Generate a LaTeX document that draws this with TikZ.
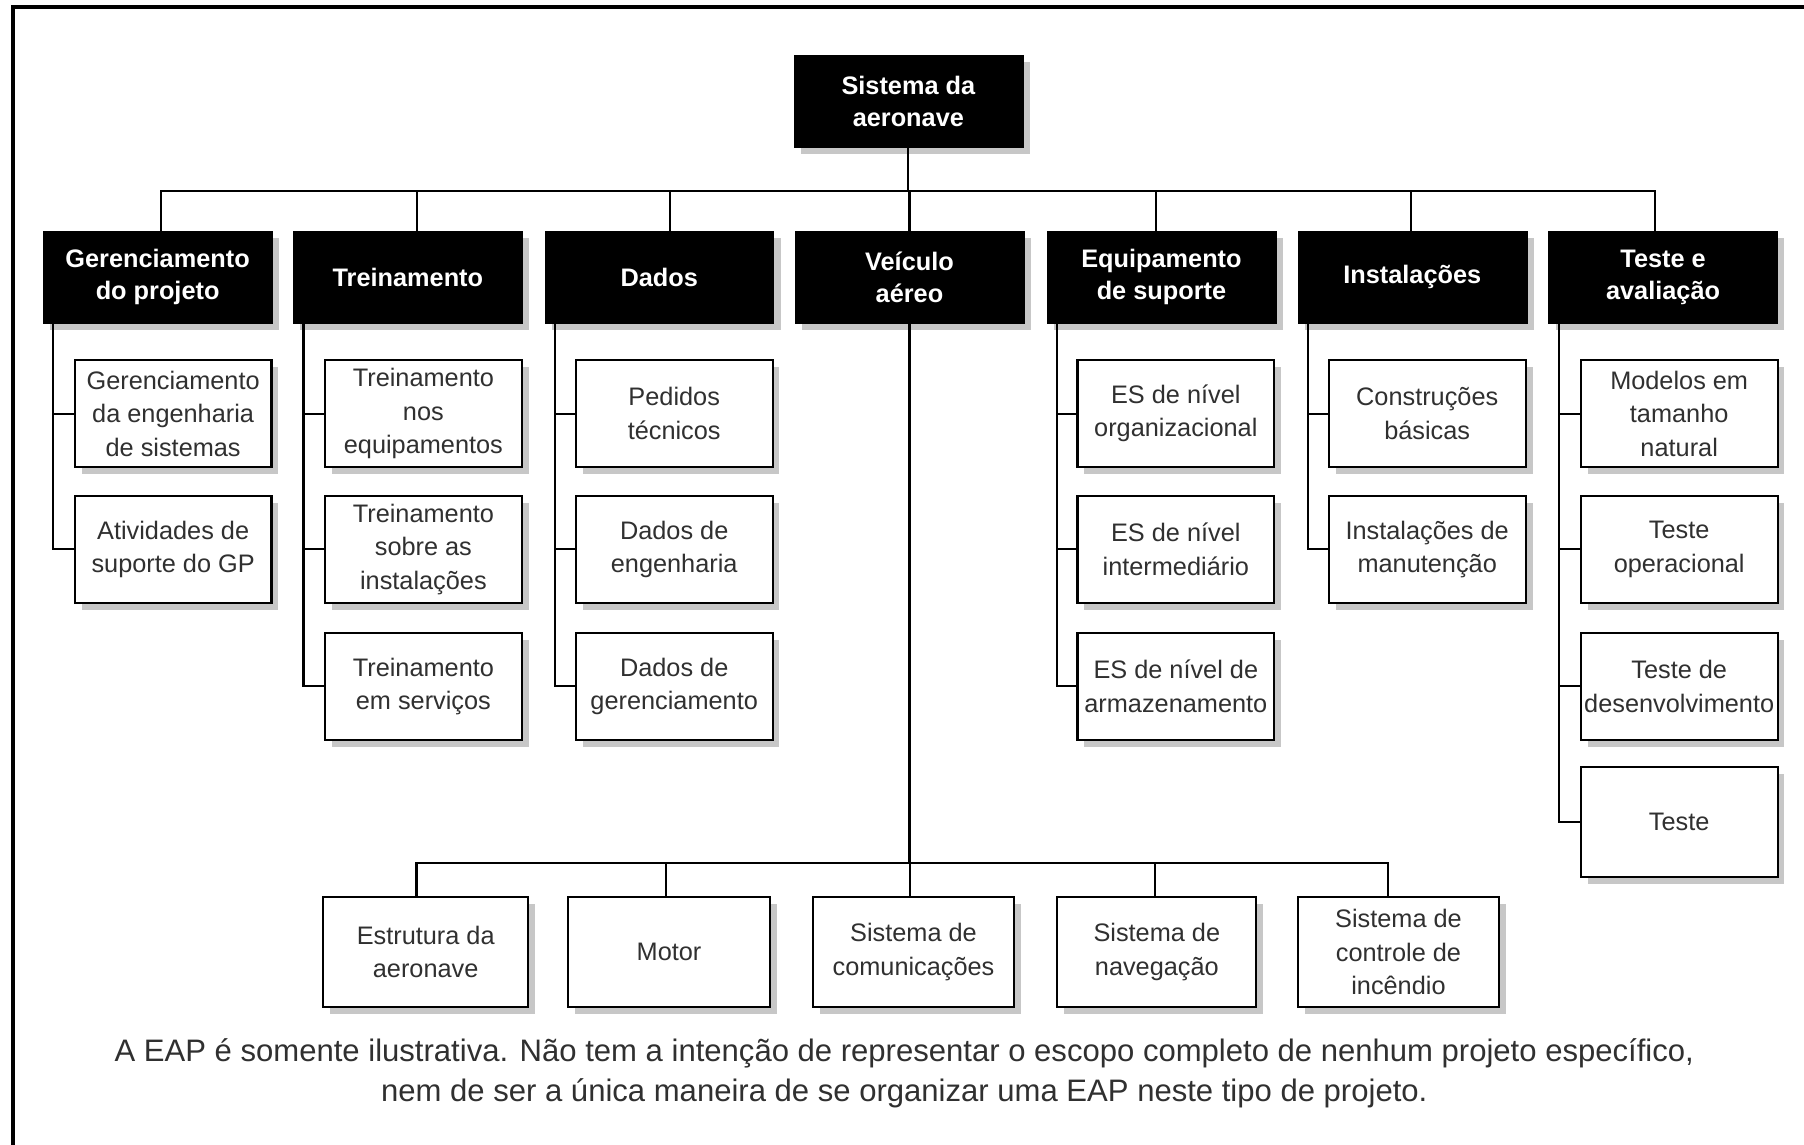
\documentclass[tikz,border=0pt]{standalone}
\usepackage{fontspec}
\setmainfont{Liberation Sans}
\usetikzlibrary{shadows,calc}
\definecolor{txt}{HTML}{303030}
\tikzset{
  conn/.style={line width=1.8pt, black},
  shad/.style={drop shadow={shadow xshift=6pt,shadow yshift=-6pt,fill=black!22,opacity=1}},
  topbox/.style={shad, fill=black, draw=black, text=white, align=center,
     font=\fontsize{22}{28}\selectfont\bfseries, minimum width=199pt, minimum height=80pt, inner sep=0pt},
  subbox/.style={shad, fill=white, draw=black, line width=1.8pt, text=txt, align=center,
     font=\fontsize{22}{29}\selectfont, minimum width=171pt, minimum height=93pt, inner sep=0pt},
  botbox/.style={subbox, minimum height=95pt},
}
\begin{document}
\begin{tikzpicture}[x=1pt,y=-1pt]
\useasboundingbox (0,0) rectangle (1568,995);
\fill[white] (0,0) rectangle (1568,995);
% frame
\draw[line width=3.5pt] (11,995) -- (11,6) -- (1568,6);

% root and level 1
\node[topbox] (root) at (789.5,88) {Sistema da\\aeronave};
\node[topbox] (p1) at (137,241) {Gerenciamento\\do projeto};
\node[topbox] (p2) at (354.5,241) {Treinamento};
\node[topbox] (p3) at (573,241) {Dados};
\node[topbox] (p4) at (790.5,241) {Veículo\\aéreo};
\node[topbox] (p5) at (1009.5,241) {Equipamento\\de suporte};
\node[topbox] (p6) at (1227.5,241) {Instalações\vphantom{T}};
\node[topbox] (p7) at (1445.5,241) {Teste e\\avaliação};

\coordinate (bus) at (790,166);
\draw[conn] (root.south) -- (root.south |- bus);
\foreach \n/\dx in {p1/3,p2/8,p3/9,p4/0,p5/-5,p6/-1,p7/-7}{
  \draw[conn] ([xshift=\dx pt]\n.north) |- (bus);
}

% column 1
\node[subbox] (a1) at (150.5,359.5) {Gerenciamento\\da engenharia\\de sistemas};
\node[subbox] (a2) at (150.5,477.5) {Atividades de\\suporte do GP};
% column 2
\node[subbox] (b1) at (368,359.5) {Treinamento\\nos\\equipamentos};
\node[subbox] (b2) at (368,477.5) {Treinamento\\sobre as\\instalações};
\node[subbox] (b3) at (368,596.5) {Treinamento\\em serviços};
% column 3
\node[subbox] (c1) at (586,359.5) {Pedidos\\técnicos};
\node[subbox] (c2) at (586,477.5) {Dados de\\engenharia};
\node[subbox] (c3) at (586,596.5) {Dados de\\gerenciamento};
% column 5
\node[subbox] (e1) at (1022,359.5) {ES de nível\\organizacional};
\node[subbox] (e2) at (1022,477.5) {ES de nível\\intermediário};
\node[subbox] (e3) at (1022,596.5) {ES de nível de\\armazenamento};
% column 6
\node[subbox] (f1) at (1240.5,359.5) {Construções\\básicas};
\node[subbox] (f2) at (1240.5,477.5) {Instalações de\\manutenção};
% column 7
\node[subbox] (g1) at (1459.5,359.5) {Modelos em\\tamanho\\natural};
\node[subbox] (g2) at (1459.5,477.5) {Teste\\operacional};
\node[subbox] (g3) at (1459.5,596.5) {Teste de\\desenvolvimento};
\node[subbox, minimum height=95pt] (g4) at (1459.5,714.5) {Teste};

\foreach \p/\kids in {p1/{a1,a2},p2/{b1,b2,b3},p3/{c1,c2,c3},p5/{e1,e2,e3},p6/{f1,f2},p7/{g1,g2,g3,g4}}{
  \foreach \k in \kids {
    \draw[conn] ([xshift=9pt]\p.south west) |- (\k.west);
  }
}

% bottom level under Veiculo aereo
\node[botbox, minimum width=178pt] (v1) at (370,827.5) {Estrutura da\\aeronave};
\node[botbox, minimum width=175pt] (v2) at (581.5,827.5) {Motor};
\node[botbox, minimum width=174pt] (v3) at (794,827.5) {Sistema de\\comunicações};
\node[botbox, minimum width=173pt] (v4) at (1005.5,827.5) {Sistema de\\navegação};
\node[botbox, minimum width=175pt] (v5) at (1215.5,827.5) {Sistema de\\controle de\\incêndio};

\coordinate (vb) at (791,750);
\draw[conn] (p4.south) -- (p4.south |- vb);
\foreach \k/\dx in {v1/-8,v2/-3,v3/-3,v4/-2,v5/-9}{
  \draw[conn] ([xshift=\dx pt]\k.north) |- (vb);
}

% note
\node[text=txt, font=\fontsize{27}{35}\selectfont, align=center] (note) at (786,933)
 {A EAP é somente ilustrativa. Não tem a intenção de representar o escopo completo de nenhum projeto específico,\\
  nem de ser a única maneira de se organizar uma EAP neste tipo de projeto.};
\end{tikzpicture}
\end{document}
